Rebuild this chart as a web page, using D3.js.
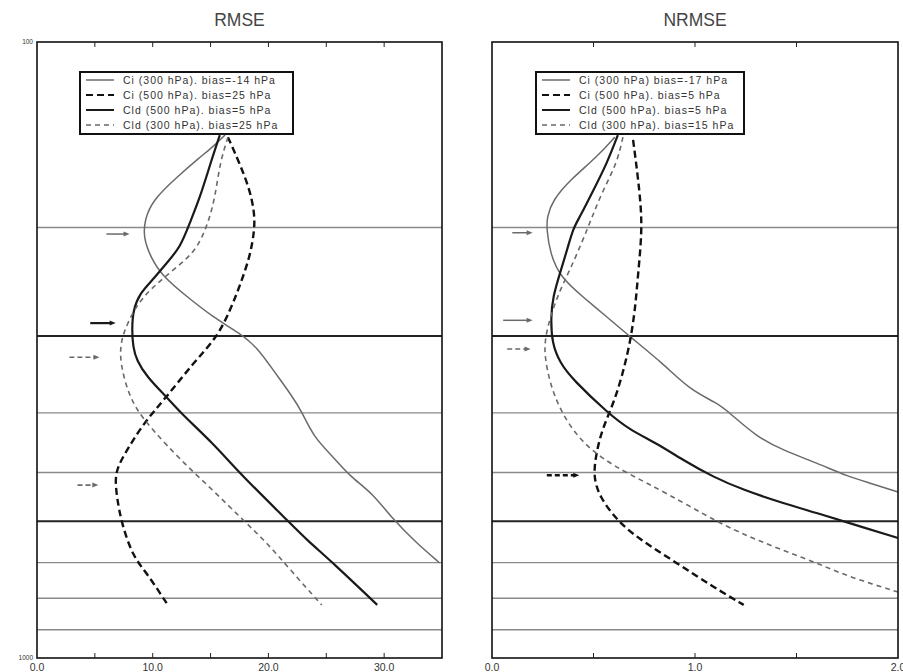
<!DOCTYPE html>
<html>
<head>
<meta charset="utf-8">
<script src="https://cdn.jsdelivr.net/npm/d3@7"></script>
<style>
  body { margin: 0; background: #fff; }
  svg { font-family: "Liberation Sans", Arial, sans-serif; }
</style>
</head>
<body>
<div id="chart"></div>
<script>
// données : [valeur, pression hPa]
const rmseCi300 = [[16.25,141.6],[15.2,148],[14.1,153.7],[12.1,165.6],[10.0,180.5],[9.3,194.5],[9.2,207.4],[9.8,223.4],[10.9,240.7],[13.0,259.4],[15.2,279.6],[17.5,296.8],[19.0,312.7],[20.4,340.8],[22.1,376.9],[22.9,398.7],[23.9,437.6],[25.6,471.8],[27.1,508.4],[29.0,540],[30.8,597],[32.8,650.7],[34.8,701]];
const rmseCi500 = [[16.5,142.7],[17.5,157.2],[18.4,173.9],[18.8,189.6],[18.8,202],[18.4,223.4],[17.5,249.6],[16.7,272.3],[15.6,301],[13.5,332],[11.2,376.9],[9.2,415.5],[7.4,471.8],[6.7,502.6],[6.9,547.9],[7.3,603.9],[8.3,685.6],[9.5,727.9],[11.3,820]];
const rmseCld500 = [[15.8,141.6],[15.0,157.2],[14.1,178.5],[13.2,196.7],[12.4,215.2],[11.2,228.5],[10.0,243.4],[8.9,255.6],[8.3,272.3],[8.2,293.5],[8.3,312.7],[8.6,328.3],[9.5,349.7],[11.2,376.9],[12.4,400],[15.2,447.8],[17.5,501],[21.6,597],[23.3,643],[25.6,701],[29.4,820]];
const rmseCld300 = [[16.5,142.7],[15.8,157.2],[15.4,178.5],[14.8,196.7],[13.8,217.6],[12.1,231.9],[10.4,246.2],[8.9,262.3],[7.8,285.9],[7.2,308],[7.2,332],[7.8,367.2],[8.6,395.7],[10.0,426.6],[12.4,477],[15.2,533.9],[17.8,597],[19.9,650.7],[21.9,719.7],[24.6,820]];

const nrmseCi300 = [[0.605,142.7],[0.517,153.7],[0.384,167.5],[0.30,180.5],[0.27,192.3],[0.27,202],[0.286,220],[0.335,240.7],[0.448,259.4],[0.567,279.6],[0.68,301],[0.84,332],[0.975,367.2],[1.11,385.5],[1.17,400],[1.305,437.6],[1.43,459.4],[1.60,482.5],[1.76,508.4],[1.86,519.7],[2.0,537.8]];
const nrmseCi500 = [[0.695,144.2],[0.71,157.2],[0.73,178.5],[0.74,202],[0.72,237.1],[0.705,272.3],[0.68,308],[0.645,344.6],[0.60,385.5],[0.54,426.6],[0.51,471.8],[0.50,508.4],[0.53,547.9],[0.615,597],[0.71,636.4],[0.91,701],[1.09,767],[1.24,820]];
const nrmseCld500 = [[0.62,141.6],[0.567,157.2],[0.50,173.9],[0.433,192.3],[0.40,200.5],[0.37,217.6],[0.335,237.1],[0.30,259.4],[0.29,279.6],[0.295,308],[0.335,332],[0.40,353.7],[0.57,400],[0.68,426.6],[0.81,447.8],[0.94,477],[1.09,508.4],[1.24,533.9],[1.43,560],[1.60,581.6],[1.76,603.9],[2.0,638.5]];
const nrmseCld300 = [[0.645,142.7],[0.616,157.2],[0.547,173.9],[0.493,192.3],[0.448,209.6],[0.384,234.4],[0.335,252.7],[0.286,279.6],[0.26,304.6],[0.26,324.6],[0.285,357.8],[0.335,395.7],[0.42,437.6],[0.53,471.8],[0.665,501],[0.86,540],[1.11,601.6],[1.27,636.4],[1.43,667.8],[1.60,701],[1.76,738.9],[2.0,781.4]];

const rmseLabels = ["Ci (300 hPa). bias=-14 hPa","Ci (500 hPa). bias=25 hPa","Cld (500 hPa). bias=5 hPa","Cld (300 hPa). bias=25 hPa"];
const nrmseLabels = ["Ci (300 hPa) bias=-17 hPa","Ci (500 hPa). bias=5 hPa","Cld (500 hPa). bias=5 hPa","Cld (300 hPa). bias=15 hPa"];

// flèches : [x début, x fin, pression, style]
const rmseArrows = [[6.0,8.0,205,0],[4.6,6.8,286,2],[2.8,5.4,325,3],[3.5,5.3,524,3]];
const nrmseArrows = [[0.10,0.20,204,0],[0.055,0.20,283,0],[0.075,0.19,315,3],[0.27,0.43,505,1]];

const gridLevels = [200,300,400,500,600,700,800,900];
const strongLevels = [300,600];

const rmseTicks = [5,10,15,20,25,30];
const rmseTickLabels = [0,10,20,30];
const nrmseTicks = [0.5,1.0,1.5];
const nrmseTickLabels = [0,1,2];

// styles des séries (ordre de la légende)
const styles = [
  {stroke:"#6a6a6a", width:1.5, dash:null},
  {stroke:"#111", width:2.4, dash:"7,4"},
  {stroke:"#1a1a1a", width:2.2, dash:null},
  {stroke:"#6a6a6a", width:1.6, dash:"5,4"}
];

const svg = d3.select("#chart").append("svg")
  .attr("width", 903)
  .attr("height", 672);

const plotTop = 42, plotBottom = 658;
const y = d3.scaleLog().domain([100,1000]).range([plotTop,plotBottom]);

function panel(opts) {
  const x = d3.scaleLinear().domain(opts.domain).range([opts.x0, opts.x1]);
  const g = svg.append("g");

  // titre
  g.append("text")
    .attr("x", (opts.x0 + opts.x1)/2 + opts.titleDx)
    .attr("y", 26)
    .attr("text-anchor", "middle")
    .attr("font-size", 17.5)
    .attr("fill", "#444")
    .text(opts.title);

  // lignes horizontales de niveau
  g.selectAll(".lvl").data(gridLevels).enter().append("line")
    .attr("x1", opts.x0).attr("x2", opts.x1)
    .attr("y1", d => y(d)).attr("y2", d => y(d))
    .attr("stroke", d => strongLevels.includes(d) ? "#222" : "#8a8a8a")
    .attr("stroke-width", d => strongLevels.includes(d) ? 2 : 1.4);

  // courbes lissées
  const line = d3.line()
    .x(d => x(d[0]))
    .y(d => y(d[1]))
    .curve(d3.curveBasis);

  opts.series.forEach((s, i) => {
    g.append("path")
      .datum(s)
      .attr("d", line)
      .attr("fill", "none")
      .attr("stroke", styles[i].stroke)
      .attr("stroke-width", styles[i].width)
      .attr("stroke-dasharray", styles[i].dash);
  });

  // flèches
  opts.arrows.forEach(a => {
    const st = styles[a[3]];
    const x1 = x(a[0]), x2 = x(a[1]), yy = y(a[2]);
    g.append("line")
      .attr("x1", x1).attr("x2", x2 - 4)
      .attr("y1", yy).attr("y2", yy)
      .attr("stroke", st.stroke)
      .attr("stroke-width", st.width)
      .attr("stroke-dasharray", st.dash ? "5,3" : null);
    g.append("path")
      .attr("d", `M${x2},${yy} L${x2-6},${yy-2.5} L${x2-6},${yy+2.5} Z`)
      .attr("fill", st.stroke);
  });

  // cadre
  g.append("rect")
    .attr("x", opts.x0).attr("y", plotTop)
    .attr("width", opts.x1 - opts.x0).attr("height", plotBottom - plotTop)
    .attr("fill", "none")
    .attr("stroke", "#111")
    .attr("stroke-width", 1.6);

  // petites graduations haut et bas (vers l'intérieur)
  opts.ticks.forEach(t => {
    g.append("line").attr("x1", x(t)).attr("x2", x(t))
      .attr("y1", plotTop).attr("y2", plotTop + 5)
      .attr("stroke", "#222").attr("stroke-width", 1);
    g.append("line").attr("x1", x(t)).attr("x2", x(t))
      .attr("y1", plotBottom).attr("y2", plotBottom - 5)
      .attr("stroke", "#222").attr("stroke-width", 1);
  });

  // étiquettes de l'axe x
  g.selectAll(".xl").data(opts.tickLabels).enter().append("text")
    .attr("x", d => x(d))
    .attr("y", 671)
    .attr("text-anchor", "middle")
    .attr("font-size", 10.5)
    .attr("fill", "#333")
    .text(d => d3.format(".1f")(d));

  // étiquettes de l'axe y (panneau de gauche seulement)
  if (opts.yLabels) {
    [100,1000].forEach(p => {
      g.append("text")
        .attr("x", opts.x0 - 4)
        .attr("y", y(p) + 2)
        .attr("text-anchor", "end")
        .attr("font-size", 6.5)
        .attr("fill", "#333")
        .text(p);
    });
  }

  // légende
  const lg = g.append("g");
  lg.append("rect")
    .attr("x", opts.legend.x).attr("y", 72)
    .attr("width", opts.legend.w).attr("height", 62)
    .attr("fill", "#fff")
    .attr("stroke", "#111")
    .attr("stroke-width", 2);
  opts.labels.forEach((lab, i) => {
    const ly = 80 + i * 15;
    lg.append("line")
      .attr("x1", opts.legend.x + 6).attr("x2", opts.legend.x + 34)
      .attr("y1", ly).attr("y2", ly)
      .attr("stroke", styles[i].stroke)
      .attr("stroke-width", Math.min(styles[i].width, 2))
      .attr("stroke-dasharray", styles[i].dash);
    lg.append("text")
      .attr("x", opts.legend.x + opts.legend.tx)
      .attr("y", ly + 3.5)
      .attr("font-size", 10.5)
      .attr("letter-spacing", 1.0)
      .attr("fill", "#333")
      .text(lab);
  });
}

panel({
  title: "RMSE", titleDx: 0,
  x0: 37, x1: 442, domain: [0,35],
  series: [rmseCi300, rmseCi500, rmseCld500, rmseCld300],
  arrows: rmseArrows,
  ticks: rmseTicks, tickLabels: rmseTickLabels,
  yLabels: true,
  labels: rmseLabels,
  legend: {x: 80, w: 213, tx: 43}
});

panel({
  title: "NRMSE", titleDx: 0,
  x0: 492, x1: 898, domain: [0,2],
  series: [nrmseCi300, nrmseCi500, nrmseCld500, nrmseCld300],
  arrows: nrmseArrows,
  ticks: nrmseTicks, tickLabels: nrmseTickLabels,
  yLabels: false,
  labels: nrmseLabels,
  legend: {x: 536, w: 208, tx: 43}
});
</script>
</body>
</html>
